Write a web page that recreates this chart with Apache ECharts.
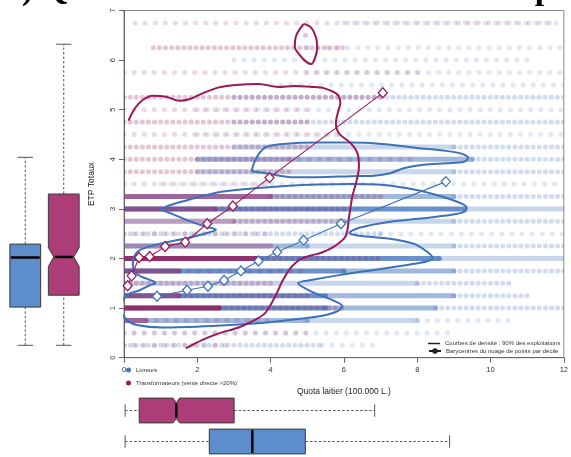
<!DOCTYPE html>
<html>
<head>
<meta charset="utf-8">
<script src="https://cdn.jsdelivr.net/npm/echarts@6/dist/echarts.min.js"></script>
<style>
  html, body { margin: 0; padding: 0; background: #fff; }
  #chart { width: 571px; height: 457px; }
</style>
</head>
<body>
<div id="chart"></div>
<script>
// ---------- data ----------
const titleText = "a) Quota laitier et ETP totaux des exploitations";
const groupNames = ["Livreurs", "Transformateurs (vente directe >20%)"];
const legendDensity = "Courbes de densité : 90% des exploitations";
const legendCentroids = "Barycentres du nuage de points par décile";
const xTicks = { min: 0, max: 12, step: 2 };
const yTicks = { min: 0, max: 7, step: 1 };

// Point cloud rows: [ETP level, quota from, quota to, density class 1..5]
const rowsLivreurs = [
  [0.25, 0, 5.4, 2], [0.25, 5.4, 7, 1],
  [0.5, 0, 9, 1],
  [0.75, 0, 5, 4], [0.75, 5, 8, 3], [0.75, 8, 10.5, 1],
  [1.0, 0, 5.5, 5], [1.0, 5.5, 8.5, 4], [1.0, 8.5, 12, 2],
  [1.25, 0, 5.5, 5], [1.25, 5.5, 9, 4], [1.25, 9, 11, 2],
  [1.5, 0, 8, 3], [1.5, 8, 10.5, 2],
  [1.75, 0, 6, 5], [1.75, 6, 9, 4], [1.75, 9, 12, 2],
  [2.0, 0, 8.6, 5], [2.0, 8.6, 12, 3],
  [2.25, 0, 5, 4], [2.25, 5, 9, 3], [2.25, 9, 12, 2],
  [2.5, 0, 7, 2], [2.5, 7, 12, 1],
  [2.75, 0, 9, 3], [2.75, 9, 12, 2],
  [3.0, 0, 9.3, 5], [3.0, 9.3, 12, 3],
  [3.25, 0, 9, 4], [3.25, 9, 12, 2],
  [3.5, 1, 12, 1],
  [3.75, 2, 9, 3], [3.75, 9, 12, 2],
  [4.0, 2, 9.5, 4], [4.0, 9.5, 12, 2],
  [4.25, 3, 9, 3], [4.25, 9, 12, 2],
  [4.5, 2, 12, 1],
  [4.75, 3, 12, 2],
  [5.0, 2, 12, 1],
  [5.25, 3, 12, 2],
  [5.5, 4, 12, 1],
  [5.75, 5, 12, 1],
  [6.0, 3, 11, 1],
  [6.25, 5, 12, 1],
  [6.75, 6, 12, 1]
];
const rowsTransfo = [
  [0.25, 0, 3, 1],
  [0.5, 0, 5, 1],
  [0.75, 0, 0.6, 4], [0.75, 0.6, 4, 1],
  [1.0, 0, 2.6, 5], [1.0, 2.6, 6, 2],
  [1.25, 0, 1.5, 4], [1.25, 1.5, 5, 2],
  [1.5, 0, 4, 2],
  [1.75, 0, 1.5, 4], [1.75, 1.5, 5, 1],
  [2.0, 0, 3.6, 5], [2.0, 3.6, 7, 2],
  [2.25, 0, 4, 3],
  [2.5, 0, 4, 1],
  [2.75, 0, 3, 3], [2.75, 3, 6, 2],
  [3.0, 0, 2.5, 4], [3.0, 2.5, 6, 2],
  [3.25, 0, 4, 4], [3.25, 4, 7, 2],
  [3.5, 0, 4, 1],
  [3.75, 0, 4.5, 2],
  [4.0, 0, 4.5, 2], [4.0, 4.5, 8, 1],
  [4.25, 0, 5, 2],
  [4.5, 0, 6, 1],
  [4.75, 0, 5, 2],
  [5.0, 0, 5, 1],
  [5.25, 0, 7, 2],
  [5.75, 0, 8, 1],
  [6.25, 0.8, 6, 2],
  [6.5, 4.95, 5.05, 2],
  [6.75, 0.3, 11.8, 1]
];

// 90% density contours [quota, ETP]
const densLivreurs = [
  [1.00, 2.98], [1.20, 3.06], [1.70, 3.17], [2.20, 3.27], [2.70, 3.35], [3.48, 3.41],
  [4.40, 3.46], [5.29, 3.49], [6.18, 3.50], [7.09, 3.48], [7.98, 3.38], [8.71, 3.24],
  [9.23, 3.10], [9.35, 3.02], [9.28, 2.94], [8.93, 2.88], [8.17, 2.81], [7.26, 2.74],
  [6.42, 2.62], [6.15, 2.52], [6.42, 2.46], [7.26, 2.40], [7.90, 2.30], [8.28, 2.13],
  [8.42, 2.01], [8.25, 1.94], [7.72, 1.87], [6.82, 1.77], [5.91, 1.67], [5.15, 1.57],
  [4.75, 1.50], [5.15, 1.32], [5.69, 1.16], [5.96, 1.04], [5.83, 0.94], [5.37, 0.84],
  [4.75, 0.78], [3.75, 0.70], [2.40, 0.64], [1.05, 0.61], [0.35, 0.66], [0.08, 0.76],
  [-0.11, 1.00], [0.08, 1.26], [0.43, 1.36], [0.70, 1.46], [0.86, 1.51], [0.70, 1.57],
  [0.38, 1.67], [0.24, 1.87], [0.27, 2.03], [0.43, 2.17], [1.05, 2.31], [1.70, 2.41],
  [2.24, 2.51], [2.51, 2.58], [2.24, 2.64], [1.70, 2.78], [1.24, 2.92], [1.00, 2.98]
];
const densLivreursHaut = [
  [3.48, 3.76], [3.56, 3.95], [3.70, 4.13], [3.88, 4.25], [4.34, 4.31], [5.29, 4.34],
  [6.18, 4.34], [7.04, 4.31], [7.98, 4.23], [8.79, 4.17], [9.23, 4.11], [9.39, 4.03],
  [9.28, 3.95], [8.79, 3.92], [8.17, 3.89], [7.63, 3.82], [7.26, 3.72], [6.82, 3.67],
  [6.18, 3.66], [5.29, 3.64], [4.56, 3.64], [3.94, 3.71], [3.48, 3.76]
];
const densTransfo = [
  [0.12, 4.78], [0.30, 5.03], [0.52, 5.20], [0.79, 5.28], [1.15, 5.26], [1.51, 5.18],
  [1.78, 5.21], [2.14, 5.33], [2.59, 5.45], [3.04, 5.50], [3.67, 5.52], [4.21, 5.46],
  [4.66, 5.48], [5.11, 5.46], [5.47, 5.43], [5.83, 5.30], [5.90, 5.13], [5.83, 4.93],
  [5.78, 4.73], [5.87, 4.52], [6.19, 4.32], [6.37, 4.12], [6.41, 3.85], [6.35, 3.58],
  [6.23, 3.25], [6.14, 2.84], [6.05, 2.45], [5.75, 2.25], [5.40, 2.12], [5.05, 2.05],
  [4.80, 1.98], [4.57, 1.83], [4.34, 1.57], [4.12, 1.23], [3.85, 0.90], [3.49, 0.73],
  [3.13, 0.61], [2.59, 0.49], [2.14, 0.36], [1.69, 0.19]
];
const densTransfoHaut = [
  [4.90, 6.73], [5.10, 6.66], [5.24, 6.45], [5.27, 6.25], [5.21, 6.04], [5.11, 5.92],
  [4.95, 5.98], [4.82, 6.08], [4.66, 6.27], [4.70, 6.50], [4.90, 6.73]
];

// Centroids of the point cloud by decile [quota, ETP]
const baryLivreurs = [
  [0.90, 1.24], [1.72, 1.36], [2.29, 1.44], [2.73, 1.56], [3.19, 1.75],
  [3.67, 1.95], [4.18, 2.13], [4.90, 2.37], [5.92, 2.70], [8.78, 3.55]
];
const baryTransfo = [
  [0.10, 1.45], [0.21, 1.65], [0.41, 2.02], [0.70, 2.04], [1.12, 2.24],
  [1.67, 2.33], [2.27, 2.70], [2.97, 3.06], [3.97, 3.63], [7.06, 5.34]
];

// Box plots: [min, Q1, median, Q3, max] and notch [low, high]
const etpLivreurs = [0.25, 1.02, 2.02, 2.29, 4.04];
const etpNotchLivreurs = [2.02, 2.02];
const etpTransfo = [0.25, 1.26, 2.03, 3.30, 6.32];
const etpNotchTransfo = [1.84, 2.22];
const quotaLivreurs = [0.03, 2.30, 3.46, 4.89, 8.78];
const quotaNotchLivreurs = [3.46, 3.46];
const quotaTransfo = [0.03, 0.41, 1.41, 2.97, 6.76];
const quotaNotchTransfo = [1.32, 1.50];

// ---------- styling ----------
const FONT = "'Liberation Sans', Arial, sans-serif";
const BLUE_LINE = "#3d72b8";
const MAG_LINE = "#9c1758";
const BLUE_DOT = "#4877bf";
const MAG_DOT = "#981c5b";
const BLUE_BOX = "#5d8dca";
const MAG_BOX = "#ad3d78";
const DENSITY_STYLE = {
  1: { op: 0.17, dash: [0.1, 10] },
  2: { op: 0.25, dash: [0.1, 6] },
  3: { op: 0.3, dash: null },
  4: { op: 0.52, dash: null },
  5: { op: 0.82, dash: null }
};
const BOX_RATIO = 0.8;
const NOTCH_DEPTH = 0.35;

function renderRow(params, api) {
  const y = api.value(0);
  const a = api.coord([api.value(1), y]);
  const b = api.coord([api.value(2), y]);
  const st = DENSITY_STYLE[api.value(3)];
  return {
    type: "line",
    shape: { x1: a[0], y1: a[1], x2: b[0], y2: b[1] },
    style: {
      stroke: api.visual("color"), lineWidth: 5, opacity: st.op,
      lineCap: "round", lineDash: st.dash
    }
  };
}

function renderBox(horizontal) {
  return function (params, api) {
    const cat = api.value(0);
    const v = [1, 2, 3, 4, 5].map(i => api.value(i));
    const nLo = api.value(6), nHi = api.value(7);
    let c, band, toPx;
    if (horizontal) {
      c = api.coord([0, cat])[1];
      band = api.size([0, 1])[1];
      toPx = val => api.coord([val, cat])[0];
    } else {
      c = api.coord([cat, 0])[0];
      band = api.size([1, 0])[0];
      toPx = val => api.coord([cat, val])[1];
    }
    const P = (off, val) => horizontal ? [toPx(val), c + off] : [c + off, toPx(val)];
    const seg = (p, q) => ({ x1: p[0], y1: p[1], x2: q[0], y2: q[1] });
    const hw = band * BOX_RATIO / 2, cap = hw * 0.5;
    const dep = nHi > nLo ? hw * NOTCH_DEPTH : 0;
    const whisk = { stroke: "#555", lineWidth: 1, lineDash: [2.5, 2] };
    const capSt = { stroke: "#555", lineWidth: 1 };
    const outline = dep > 0 ? [
      P(-hw, v[1]), P(-hw, nLo), P(-hw + dep, v[2]), P(-hw, nHi), P(-hw, v[3]),
      P(hw, v[3]), P(hw, nHi), P(hw - dep, v[2]), P(hw, nLo), P(hw, v[1])
    ] : [P(-hw, v[1]), P(-hw, v[3]), P(hw, v[3]), P(hw, v[1])];
    return {
      type: "group",
      children: [
        { type: "line", shape: seg(P(0, v[0]), P(0, v[1])), style: whisk },
        { type: "line", shape: seg(P(0, v[3]), P(0, v[4])), style: whisk },
        { type: "line", shape: seg(P(-cap, v[0]), P(cap, v[0])), style: capSt },
        { type: "line", shape: seg(P(-cap, v[4]), P(cap, v[4])), style: capSt },
        { type: "polygon", shape: { points: outline },
          style: { fill: api.visual("color"), stroke: "#3a3a3a", lineWidth: 1 } },
        { type: "line", shape: seg(P(-hw + dep + 1, v[2]), P(hw - dep - 1, v[2])),
          style: { stroke: "#000", lineWidth: 2.5 } }
      ]
    };
  };
}

function contour(data, color) {
  return {
    type: "line", xAxisIndex: 0, yAxisIndex: 0, data: data,
    symbol: "none", smooth: 0.3, clip: true, silent: true, z: 4,
    lineStyle: { color: color, width: 2 }
  };
}
function centroids(data, color) {
  return {
    type: "line", xAxisIndex: 0, yAxisIndex: 0, data: data,
    symbol: "diamond", symbolSize: [9, 10], showSymbol: true, clip: true, silent: true, z: 5,
    lineStyle: { color: color, width: 1.1 },
    itemStyle: { color: "#fff", borderColor: color, borderWidth: 1.3 }
  };
}

const axisLineStyle = { color: "#666", width: 1 };
const smallText = { fontSize: 6, lineHeight: 7, color: "#333", fontFamily: FONT };

const option = {
  animation: false,
  graphic: [{
    type: "text", silent: true,
    style: {
      text: titleText, x: 346.5, y: -9.5,
      font: "bold 34px 'Liberation Serif', 'Times New Roman', serif",
      fill: "#000", textAlign: "center", textVerticalAlign: "middle"
    }
  }],
  grid: [
    { left: 124, top: 10.5, width: 445, height: 347.2, show: true, borderColor: "#8a8a8a", borderWidth: 1 },
    { left: 6, top: 10.5, width: 77, height: 347.2 },
    { left: 124, top: 395, width: 445, height: 66 }
  ],
  xAxis: [
    {
      gridIndex: 0, type: "value", min: xTicks.min, max: xTicks.max, interval: xTicks.step,
      axisLine: { show: true, onZero: false, lineStyle: axisLineStyle },
      axisTick: { show: true, length: 5, lineStyle: axisLineStyle },
      axisLabel: { fontSize: 7.5, color: "#333", margin: 8, fontFamily: FONT, showMaxLabel: true, showMinLabel: true },
      splitLine: { show: false },
      name: "Quota laitier (100.000 L.)", nameLocation: "middle", nameGap: 29,
      nameTextStyle: { fontSize: 8.5, color: "#222", fontFamily: FONT }
    },
    { gridIndex: 1, type: "category", data: ["Livreurs", "Transformateurs"], show: false },
    { gridIndex: 2, type: "value", min: xTicks.min, max: xTicks.max, show: false }
  ],
  yAxis: [
    {
      gridIndex: 0, type: "value", min: yTicks.min, max: yTicks.max, interval: yTicks.step,
      axisLine: { show: true, onZero: false, lineStyle: axisLineStyle },
      axisTick: { show: true, length: 5, lineStyle: axisLineStyle },
      axisLabel: { fontSize: 7.5, color: "#333", rotate: 90, margin: 7, fontFamily: FONT },
      splitLine: { show: false },
      name: "ETP Totaux", nameLocation: "middle", nameRotate: 90, nameGap: 28,
      nameTextStyle: { fontSize: 8.5, color: "#222", fontFamily: FONT }
    },
    { gridIndex: 1, type: "value", min: yTicks.min, max: yTicks.max, show: false },
    { gridIndex: 2, type: "category", data: ["Transformateurs", "Livreurs"], inverse: true, show: false }
  ],
  legend: [
    {
      data: groupNames, orient: "vertical", left: 126, top: 366.5, padding: 0,
      icon: "circle", itemWidth: 5, itemHeight: 5, itemGap: 6, selectedMode: false,
      textStyle: smallText
    },
    {
      data: [legendDensity], left: 428, top: 340, padding: 0,
      icon: "rect", itemWidth: 12, itemHeight: 1.5, selectedMode: false,
      textStyle: smallText
    },
    {
      data: [legendCentroids], left: 428, top: 347.5, padding: 0,
      itemWidth: 12, itemHeight: 7, selectedMode: false,
      textStyle: smallText
    }
  ],
  series: [
    {
      name: groupNames[0], type: "custom", xAxisIndex: 0, yAxisIndex: 0,
      renderItem: renderRow, data: rowsLivreurs, clip: true, silent: true, z: 2,
      encode: { x: [1, 2], y: 0 }, itemStyle: { color: BLUE_DOT }
    },
    {
      name: groupNames[1], type: "custom", xAxisIndex: 0, yAxisIndex: 0,
      renderItem: renderRow, data: rowsTransfo, clip: true, silent: true, z: 3,
      encode: { x: [1, 2], y: 0 }, itemStyle: { color: MAG_DOT }
    },
    contour(densLivreurs, BLUE_LINE),
    contour(densLivreursHaut, BLUE_LINE),
    contour(densTransfo, MAG_LINE),
    contour(densTransfoHaut, MAG_LINE),
    centroids(baryTransfo, MAG_LINE),
    centroids(baryLivreurs, BLUE_LINE),
    {
      name: legendDensity, type: "line", data: [],
      symbol: "none", lineStyle: { color: "#222", width: 1.5 }, itemStyle: { color: "#222" }
    },
    {
      name: legendCentroids, type: "line", data: [],
      symbol: "circle", symbolSize: 3, lineStyle: { color: "#222", width: 1 }, itemStyle: { color: "#222" }
    },
    {
      type: "custom", xAxisIndex: 1, yAxisIndex: 1, renderItem: renderBox(false), silent: true,
      encode: { x: 0, y: [1, 2, 3, 4, 5] },
      data: [
        { value: [0, ...etpLivreurs, ...etpNotchLivreurs], itemStyle: { color: BLUE_BOX } },
        { value: [1, ...etpTransfo, ...etpNotchTransfo], itemStyle: { color: MAG_BOX } }
      ]
    },
    {
      type: "custom", xAxisIndex: 2, yAxisIndex: 2, renderItem: renderBox(true), silent: true,
      encode: { y: 0, x: [1, 2, 3, 4, 5] },
      data: [
        { value: [0, ...quotaTransfo, ...quotaNotchTransfo], itemStyle: { color: MAG_BOX } },
        { value: [1, ...quotaLivreurs, ...quotaNotchLivreurs], itemStyle: { color: BLUE_BOX } }
      ]
    }
  ]
};

const chart = echarts.init(document.getElementById("chart"), null, { renderer: "canvas" });
chart.setOption(option);
</script>
</body>
</html>
